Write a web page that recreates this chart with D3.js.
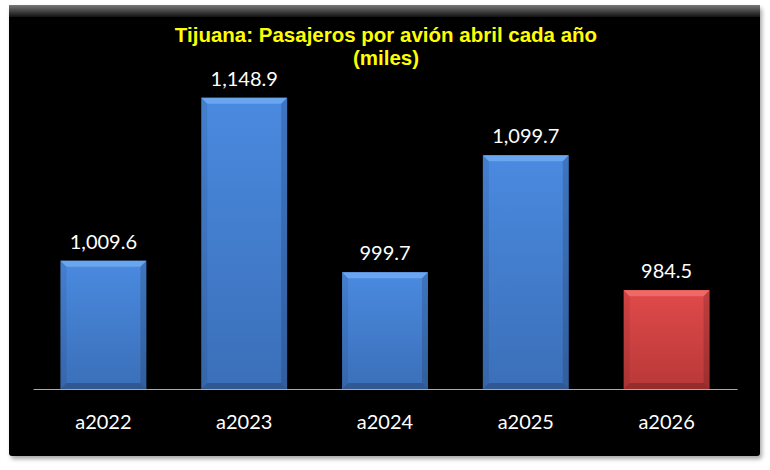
<!DOCTYPE html>
<html>
<head>
<meta charset="utf-8">
<script src="https://cdn.jsdelivr.net/npm/d3@7"></script>
<style>
  body { margin: 0; background: #fff; }
  text { font-family: Lato, "Open Sans", sans-serif; }
</style>
</head>
<body>
<div id="container"></div>
<script>
/* CONSTANTS AND GLOBALS */
const width = 770,
      height = 470;

// DATA
const categories = ["a2022", "a2023", "a2024", "a2025", "a2026"];
const values = [1009.6, 1148.9, 999.7, 1099.7, 984.5];
const valueLabels = ["1,009.6", "1,148.9", "999.7", "1,099.7", "984.5"];
const titleLines = ["Tijuana: Pasajeros por avión abril cada año", "(miles)"];
const yDomain = [900, 1200];

const svg = d3.select("#container")
  .append("svg")
  .attr("width", width)
  .attr("height", height);

const defs = svg.append("defs");

// frame gradients
const topBevel = defs.append("linearGradient").attr("id", "topBevel")
  .attr("x1", 0).attr("y1", 0).attr("x2", 0).attr("y2", 1);
topBevel.append("stop").attr("offset", "0%").attr("stop-color", "#777");
topBevel.append("stop").attr("offset", "100%").attr("stop-color", "#111");

const shadow = defs.append("filter").attr("id", "shadow")
  .attr("x", "-5%").attr("y", "-5%").attr("width", "110%").attr("height", "115%");
shadow.append("feDropShadow").attr("dx", 2).attr("dy", 3).attr("stdDeviation", 2)
  .attr("flood-color", "#000").attr("flood-opacity", 0.35);

// bar gradients
function barGrad(id, c1, c2) {
  const g = defs.append("linearGradient").attr("id", id)
    .attr("x1", 0).attr("y1", 0).attr("x2", 0).attr("y2", 1);
  g.append("stop").attr("offset", "0%").attr("stop-color", c1);
  g.append("stop").attr("offset", "100%").attr("stop-color", c2);
}
barGrad("blueGrad", "#4a8ae0", "#3b6fb8");
barGrad("redGrad", "#e04a4a", "#b93838");

// FRAME
svg.append("rect")
  .attr("x", 9).attr("y", 5)
  .attr("width", 751).attr("height", 451)
  .attr("rx", 3)
  .attr("fill", "#050505")
  .attr("filter", "url(#shadow)");

svg.append("rect")
  .attr("x", 9).attr("y", 5)
  .attr("width", 751).attr("height", 12)
  .attr("fill", "url(#topBevel)");

// SCALES
const xScale = d3.scaleBand()
  .domain(categories)
  .range([33, 737])
  .paddingInner(0.39)
  .paddingOuter(0.195);

const yScale = d3.scaleLinear()
  .domain(yDomain)
  .range([389, 38]);

// TITLE
svg.append("g")
  .selectAll("text")
  .data(titleLines)
  .join("text")
  .attr("x", 386)
  .attr("y", (d, i) => 42 + i * 23)
  .attr("text-anchor", "middle")
  .attr("fill", "#ffff00")
  .attr("font-weight", "bold")
  .attr("font-size", 20.5)
  .style("font-family", "'Liberation Sans', Arial, sans-serif")
  .text(d => d);

// BARS
const bars = svg.append("g")
  .selectAll("g.bar")
  .data(values)
  .join("g")
  .attr("class", "bar");

const bev = 6;
bars.append("rect")
  .attr("x", (d, i) => xScale(categories[i]))
  .attr("y", d => yScale(d))
  .attr("width", xScale.bandwidth())
  .attr("height", d => yScale(yDomain[0]) - yScale(d))
  .attr("fill", (d, i) => i === categories.length - 1 ? "url(#redGrad)" : "url(#blueGrad)");

// top bevel
bars.append("path")
  .attr("d", (d, i) => {
    const x0 = xScale(categories[i]), x1 = x0 + xScale.bandwidth(), y0 = yScale(d);
    return `M${x0},${y0}L${x1},${y0}L${x1 - bev},${y0 + bev}L${x0 + bev},${y0 + bev}Z`;
  })
  .attr("fill", (d, i) => i === categories.length - 1 ? "#ee6a66" : "#6aa6f0");

// side bevels
bars.append("path")
  .attr("d", (d, i) => {
    const x0 = xScale(categories[i]), y0 = yScale(d), yb = yScale(yDomain[0]);
    return `M${x0},${y0}L${x0 + bev},${y0 + bev}L${x0 + bev},${yb - bev}L${x0},${yb}Z`;
  })
  .attr("fill", "#000").attr("opacity", 0.08);

bars.append("path")
  .attr("d", (d, i) => {
    const x1 = xScale(categories[i]) + xScale.bandwidth(), y0 = yScale(d), yb = yScale(yDomain[0]);
    return `M${x1},${y0}L${x1 - bev},${y0 + bev}L${x1 - bev},${yb - bev}L${x1},${yb}Z`;
  })
  .attr("fill", "#000").attr("opacity", 0.15);

bars.append("path")
  .attr("d", (d, i) => {
    const x0 = xScale(categories[i]), x1 = x0 + xScale.bandwidth(), yb = yScale(yDomain[0]);
    return `M${x0},${yb}L${x0 + bev},${yb - bev}L${x1 - bev},${yb - bev}L${x1},${yb}Z`;
  })
  .attr("fill", "#000").attr("opacity", 0.2);

// VALUE LABELS
bars.append("text")
  .attr("x", (d, i) => xScale(categories[i]) + xScale.bandwidth() / 2)
  .attr("y", d => yScale(d) - 12)
  .attr("text-anchor", "middle")
  .attr("fill", "#fff")
  .attr("font-size", 20)
  .text((d, i) => valueLabels[i]);

// AXIS
const xAxis = d3.axisBottom(xScale).tickSize(0).tickPadding(26);

const axisG = svg.append("g")
  .attr("transform", `translate(0, ${yScale(yDomain[0])})`)
  .call(xAxis);

axisG.select(".domain").attr("stroke", "#aaa").attr("stroke-width", 1);
axisG.selectAll("text")
  .attr("fill", "#fff")
  .attr("font-size", 20)
  .style("font-family", "Lato, 'Open Sans', sans-serif");
</script>
</body>
</html>
